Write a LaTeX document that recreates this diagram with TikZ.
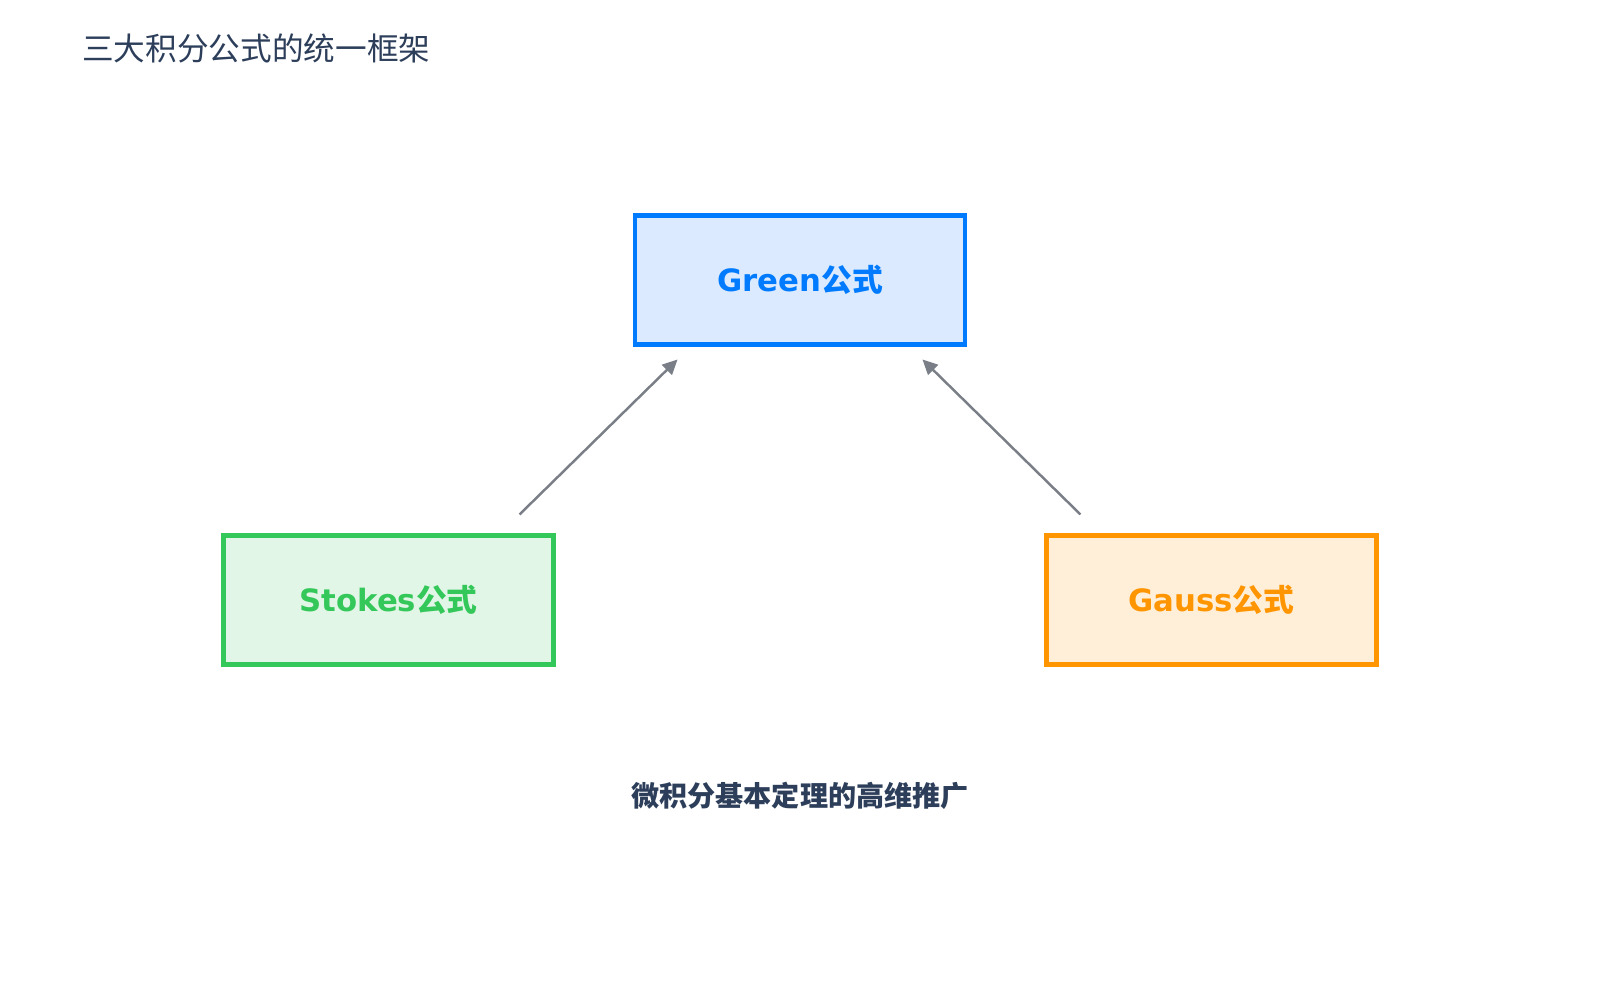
\documentclass[tikz,border=0pt]{standalone}
\usepackage{fontspec}
\setmainfont{DejaVu Sans}
\newfontfamily\cjk{Noto Sans CJK SC}
\usepackage{xcolor}
\definecolor{ink}{RGB}{44, 62, 90}
\definecolor{gblue}{RGB}{ 0, 123, 255}
\definecolor{gbluefill}{RGB}{219, 234, 254}
\definecolor{sgreen}{RGB}{52, 199, 89}
\definecolor{sgreenfill}{RGB}{226, 246, 231}
\definecolor{gorange}{RGB}{255, 149, 0}
\definecolor{gorangefill}{RGB}{255, 238, 216}
\definecolor{arrowgray}{RGB}{122, 127, 135}
\usepackage{tikz}
\usetikzlibrary{arrows.meta, positioning, calc}
\tikzset{
  formbox/.style={draw, line width=2.8pt, minimum width=6.6cm,
    minimum height=2.58cm, align=center,
    font=\fontsize{17.5}{21}\selectfont\bfseries},
  greenbox/.style={formbox, draw=gblue, fill=gbluefill, text=gblue},
  stokesbox/.style={formbox, draw=sgreen, fill=sgreenfill, text=sgreen},
  gaussbox/.style={formbox, draw=gorange, fill=gorangefill, text=gorange},
  titletext/.style={inner sep=0pt, text=ink,
    font=\fontsize{18}{22}\selectfont\cjk},
  notetext/.style={inner sep=0pt, text=ink,
    font=\fontsize{16}{20}\selectfont\cjk\bfseries},
  linkarrow/.style={-{Triangle[length=0.3cm, width=0.28cm]},
    line width=1.4pt, color=arrowgray}
}

\begin{document}
\begin{tikzpicture}
  \useasboundingbox (0,0) rectangle (32,-20);

  %% Title
  \node[titletext, anchor=west] (title) at (1.64,-0.96) {三大积分公式的统一框架};

  %% Formula boxes
  \node[greenbox] (green) at (16,-5.6) {Green{\cjk 公式}};
  \node[stokesbox, below left=3.72cm and 1.53cm of green] (stokes) {Stokes{\cjk 公式}};
  \node[gaussbox, below right=3.72cm and 1.53cm of green] (gauss) {Gauss{\cjk 公式}};

  %% Arrows
  \draw[linkarrow] ($(stokes.north east)+(-0.73,0.37)$) -- ($(green.south west)+(0.9,-0.25)$);
  \draw[linkarrow] ($(gauss.north west)+(0.73,0.37)$) -- ($(green.south east)+(-0.9,-0.25)$);

  %% Note
  \node[notetext] (note) at (16,-15.92) {微积分基本定理的高维推广};

\end{tikzpicture}
\end{document}
